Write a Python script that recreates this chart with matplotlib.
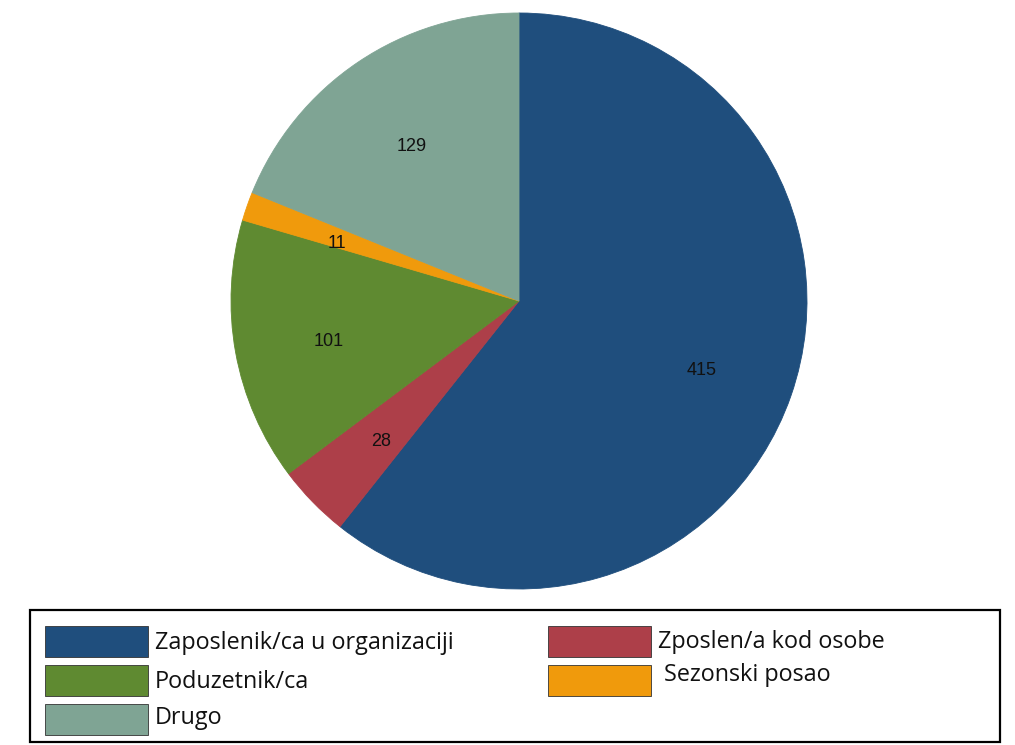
import matplotlib
matplotlib.use("Agg")
import matplotlib.pyplot as plt
from matplotlib.patches import Rectangle

# Data (clockwise from 12 o'clock)
categories = ["Zaposlenik/ca u organizaciji", "Zposlen/a kod osobe", "Poduzetnik/ca",
              "Sezonski posao", "Drugo"]
values = [415, 28, 101, 11, 129]
colors = ["#1f4e7d", "#ad3f49", "#5f8a31", "#f09a0c", "#7fa494"]

W, H = 1015, 745
fig = plt.figure(figsize=(W / 100, H / 100), dpi=100)
fig.patch.set_facecolor("white")

# Pie axes: center (519, 301) px, radius 288 px
cx, cy, R = 519, 301, 288
ax = fig.add_axes([(cx - R) / W, (H - cy - R) / H, 2 * R / W, 2 * R / H])
wedges, texts = ax.pie(values, colors=colors, startangle=90, counterclock=False,
                       labels=[str(v) for v in values], labeldistance=0.67,
                       wedgeprops=dict(linewidth=0.6),
                       textprops=dict(fontsize=13, family="Liberation Sans", color="#111111"))
for w, c in zip(wedges, colors):
    w.set_edgecolor(c)
# labels centred and sitting slightly below the geometric centre, as in the original
for t in texts:
    x, y = t.get_position()
    t.set_position((x, y - 6 / R))
    t.set_ha("center")
    t.set_va("center")
ax.set_xlim(-1, 1)
ax.set_ylim(-1, 1)
ax.set_aspect("auto")
ax.axis("off")

# Legend drawn in pixel coordinates
lax = fig.add_axes([0, 0, 1, 1], zorder=-1)
lax.set_xlim(0, W)
lax.set_ylim(H, 0)
lax.axis("off")
lax.add_patch(Rectangle((30, 610), 970, 132, facecolor="white", edgecolor="black", linewidth=1.6))

legend_pos = {
    "Zaposlenik/ca u organizaciji": (45, 626, 155, 643),
    "Poduzetnik/ca": (45, 665, 155, 682),
    "Drugo": (45, 704, 155, 718),
    "Zposlen/a kod osobe": (548, 626, 658, 642),
    "Sezonski posao": (548, 665, 664, 675),
}
for name, col in zip(categories, colors):
    x, y, tx, ty = legend_pos[name]
    lax.add_patch(Rectangle((x, y), 103, 31, facecolor=col, edgecolor="#333333", linewidth=0.6))
    lax.text(tx, ty, name, fontsize=16.8, family="Open Sans", va="center", ha="left",
             color="#111111")

fig.savefig("out.png", dpi=100, facecolor="white")
